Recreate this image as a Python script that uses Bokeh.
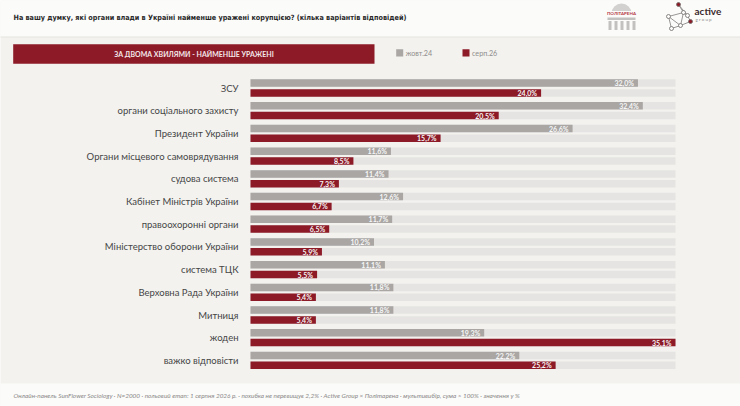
from bokeh.plotting import figure
from bokeh.models import Range1d, ColumnDataSource
from bokeh.embed import file_html
from bokeh.resources import INLINE
from bokeh.core.properties import value

# ---------------- data ----------------
categories = [
    "ЗСУ",
    "органи соціального захисту",
    "Президент України",
    "Органи місцевого самоврядування",
    "судова система",
    "Кабінет Міністрів України",
    "правоохоронні органи",
    "Міністерство оборони України",
    "система ТЦК",
    "Верховна Рада України",
    "Митниця",
    "жоден",
    "важко відповісти",
]
wave_oct24 = [32.0, 32.4, 26.6, 11.6, 11.4, 12.6, 11.7, 10.2, 11.1, 11.8, 11.8, 19.3, 22.2]
wave_aug26 = [24.0, 20.5, 15.7, 8.5, 7.3, 6.7, 6.5, 5.9, 5.5, 5.4, 5.4, 35.1, 25.2]
series_names = ["жовт.24", "серп.26"]
track_max = 35.1

title_text = "На вашу думку, які органи влади в Україні найменше уражені корупцією? (кілька варіантів відповідей)"
banner_text = "ЗА ДВОМА ХВИЛЯМИ - НАЙМЕНШЕ УРАЖЕНІ"
footer_text = ("Онлайн-панель SunFlower Sociology · N=2000 · польовий етап: 1 серпня 2026 р. · "
               "похибка не перевищує 2,2% · Active Group × Політарена · мультивибір, сума > 100% · значення у %")

# ---------------- style ----------------
RED = "#8c1a27"
GRAY = "#a9a6a4"
TRACK = "#e5e4e2"
BG = "#f3f2ef"
WHITE_BAND = "#fbfbfa"
FONT = "Lato"

W, H = 740, 406
PX_PER_UNIT = 425 / track_max
ZERO_X = 250            # px where value 0 sits
ROW_H = 22.7            # px per row
ROW0_Y = 87.5           # px (from top) of first row centre


def dx(px):
    return (px - ZERO_X) / PX_PER_UNIT


def dy(py):
    return (py - ROW0_Y) / ROW_H


p = figure(width=W, height=H, output_backend="svg", toolbar_location=None,
           x_range=Range1d(dx(0), dx(W)), y_range=Range1d(dy(H), dy(0)),
           min_border=0, background_fill_color=BG, border_fill_color=BG,
           outline_line_color=None)
p.axis.visible = False
p.grid.visible = False

# bands: title (top) and footer (bottom)
p.quad(left=dx(-10), right=dx(760), top=dy(-10), bottom=dy(36.5), fill_color=WHITE_BAND, line_color=None)
p.segment(x0=dx(-10), x1=dx(760), y0=dy(36.5), y1=dy(36.5), line_color="#e4e3df", line_width=1)
p.quad(left=dx(-10), right=dx(760), top=dy(383), bottom=dy(420), fill_color=WHITE_BAND, line_color=None)

# title
p.text(x=[dx(13)], y=[dy(16.5)], text=[title_text], text_font=value("DejaVu Sans Condensed"),
       text_font_style="bold", text_font_size="7.2px", text_color="#2a2a2a",
       text_baseline="middle", text_align="left")

# banner
p.quad(left=dx(12.7), right=dx(374), top=dy(43.7), bottom=dy(63.3), fill_color=RED, line_color=None)
p.text(x=[dx(193.5)], y=[dy(53.6)], text=[banner_text], text_font=value(FONT), text_font_style="bold",
       text_font_size="7px", text_color="#f3e6e7", text_align="center", text_baseline="middle")

# legend
leg_x = [395.7, 462]
leg_col = [GRAY, RED]
for lx, lc, name in zip(leg_x, leg_col, series_names):
    p.quad(left=dx(lx), right=dx(lx + 7), top=dy(48.7), bottom=dy(56), fill_color=lc, line_color=None)
    p.text(x=[dx(lx + 9.5)], y=[dy(52.5)], text=[name], text_font=value(FONT), text_font_size="7.2px",
           text_color="#8f8d8b", text_baseline="middle", text_align="left")

# logos (Політарена)
p.wedge(x=[dx(621)], y=[dy(13)], radius=10 / PX_PER_UNIT, start_angle=0, end_angle=3.14159,
        direction="anticlock", fill_color="#d3d1cf", line_color=None)
p.quad(left=dx(607), right=dx(635), top=dy(17), bottom=dy(19.5), fill_color="#c3c1bf", line_color=None)
for cx in [608, 614, 620, 626, 632]:
    p.quad(left=dx(cx), right=dx(cx + 3), top=dy(20.5), bottom=dy(29.5), fill_color="#c3c1bf", line_color=None)
p.quad(left=dx(604), right=dx(638), top=dy(10.5), bottom=dy(16), fill_color=WHITE_BAND, line_color=None)
p.text(x=[dx(621)], y=[dy(13.3)], text=["ПОЛІТАРЕНА"], text_font=value(FONT), text_font_style="bold",
       text_font_size="4.5px", text_color="#b53a45", text_align="center", text_baseline="middle")

# logos (active group)
nodes_x = [678, 690, 668, 671, 683, 680, 687]
nodes_y = [4, 21, 16, 28, 12, 25, 15]
edges = [(0, 4), (4, 2), (2, 3), (3, 5), (5, 1), (1, 6), (6, 4), (0, 6), (2, 5), (4, 5)]
p.segment(x0=[dx(nodes_x[a]) for a, b in edges], y0=[dy(nodes_y[a]) for a, b in edges],
          x1=[dx(nodes_x[b]) for a, b in edges], y1=[dy(nodes_y[b]) for a, b in edges],
          line_color="#8d8a88", line_width=0.9)
p.scatter(x=[dx(v) for v in nodes_x], y=[dy(v) for v in nodes_y], size=4,
          fill_color=["#8c1a27", "#8c1a27", WHITE_BAND, WHITE_BAND, WHITE_BAND, WHITE_BAND, WHITE_BAND],
          line_color="#6e6b69", line_width=0.8)
p.text(x=[dx(694)], y=[dy(10)], text=["active"], text_font=value(FONT), text_font_style="bold",
       text_font_size="10px", text_color="#3c2a2c", text_baseline="middle", text_align="left")
p.text(x=[dx(695)], y=[dy(18.5)], text=["g r o u p"], text_font=value(FONT),
       text_font_size="4.5px", text_color="#8a8886", text_baseline="middle", text_align="left")

# ---------------- bars ----------------
n = len(categories)
OFF = 4.9 / ROW_H
BH = 7.5 / ROW_H
rows = list(range(n))
gray_y = [r - OFF for r in rows]
red_y = [r + OFF for r in rows]


def fmt(v):
    return f"{v:.1f}%".replace(".", ",")


src = ColumnDataSource(dict(
    cat=categories, row=rows, gy=gray_y, ry=red_y,
    oct=wave_oct24, aug=wave_aug26,
    oct_lbl=[fmt(v) for v in wave_oct24], aug_lbl=[fmt(v) for v in wave_aug26],
    oct_lx=[v - 4 / PX_PER_UNIT for v in wave_oct24], aug_lx=[v - 4 / PX_PER_UNIT for v in wave_aug26],
    track=[track_max] * n,
))

p.hbar(y="gy", left=0, right="track", height=BH, source=src, fill_color=TRACK, line_color=None)
p.hbar(y="ry", left=0, right="track", height=BH, source=src, fill_color=TRACK, line_color=None)
p.hbar(y="gy", left=0, right="oct", height=BH, source=src, fill_color=GRAY, line_color=None)
p.hbar(y="ry", left=0, right="aug", height=BH, source=src, fill_color=RED, line_color=None)

p.text(x="oct_lx", y="gy", text="oct_lbl", source=src, text_font=value(FONT), text_font_style="bold",
       text_font_size="7px", text_color="#f7f7f7", text_align="right", text_baseline="middle")
p.text(x="aug_lx", y="ry", text="aug_lbl", source=src, text_font=value(FONT), text_font_style="bold",
       text_font_size="7px", text_color="#f7f7f7", text_align="right", text_baseline="middle")

p.text(x=dx(238), y="row", text="cat", source=src, text_font=value(FONT), text_font_size="9.5px",
       text_color="#454545", text_align="right", text_baseline="middle")

# footer
p.text(x=[dx(13)], y=[dy(395)], text=[footer_text], text_font=value(FONT), text_font_style="italic",
       text_font_size="6.4px", text_color="#8a8886", text_baseline="middle", text_align="left")

open("out.html", "w").write(file_html(p, INLINE))
